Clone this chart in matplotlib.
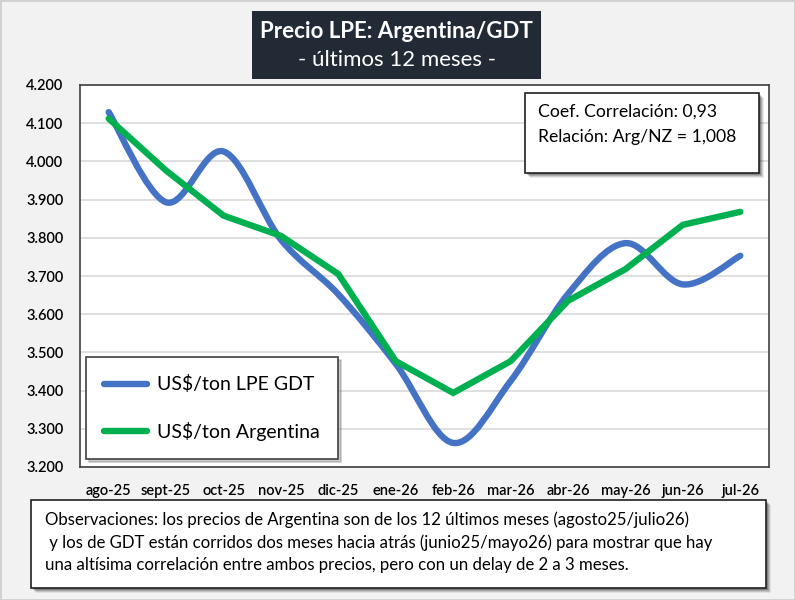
import numpy as np
import matplotlib
matplotlib.use("Agg")
import matplotlib.pyplot as plt
from matplotlib.path import Path
from matplotlib.patches import PathPatch, Rectangle
from matplotlib.lines import Line2D

plt.rcParams['font.family'] = ['Lato', 'DejaVu Sans']

# datos
meses = ['ago-25', 'sept-25', 'oct-25', 'nov-25', 'dic-25', 'ene-26',
         'feb-26', 'mar-26', 'abr-26', 'may-26', 'jun-26', 'jul-26']
gdt = [4129, 3893, 4026, 3795, 3652, 3470, 3263, 3425, 3653, 3786, 3678, 3753]
argentina = [4112, 3976, 3858, 3805, 3705, 3477, 3394, 3477, 3635, 3718, 3834, 3868]
y_ticks = [3200, 3300, 3400, 3500, 3600, 3700, 3800, 3900, 4000, 4100, 4200]

titulo = 'Precio LPE: Argentina/GDT'
subtitulo = '- últimos 12 meses -'
caja_corr = 'Coef. Correlación: 0,93\nRelación: Arg/NZ = 1,008'
observaciones = ('Observaciones: los precios de Argentina son de los 12 últimos meses (agosto25/julio26)\n'
                 ' y los de GDT están corridos dos meses hacia atrás (junio25/mayo26) para mostrar que hay\n'
                 'una altísima correlación entre ambos precios, pero con un delay de 2 a 3 meses.')

AZUL = '#4472c4'
VERDE = '#00b050'

W, H = 795, 600


def fx(x):
    return x / W


def fy(y):
    return 1 - y / H


def caja(x0, y0, x1, y1, face, edge=None, sombra=True):
    # rectangulo en pixeles de figura, con sombra tipo Excel
    if sombra:
        for k, a in zip([5, 4, 3, 2], [0.08, 0.12, 0.16, 0.2]):
            fig.patches.append(Rectangle((fx(x0 + k), fy(y1 + k)), fx(x1 - x0), (y1 - y0) / H,
                                         transform=fig.transFigure, facecolor='black',
                                         alpha=a, edgecolor='none', zorder=4))
    fig.patches.append(Rectangle((fx(x0), fy(y1)), fx(x1 - x0), (y1 - y0) / H,
                                 transform=fig.transFigure, facecolor=face,
                                 edgecolor=edge if edge else 'none', linewidth=1.2, zorder=5))


def curva_suave(x, y):
    # bezier estilo "linea suavizada" de Excel
    x = np.asarray(x, float)
    y = np.asarray(y, float)
    px = np.concatenate([[x[0]], x, [x[-1]]])
    py = np.concatenate([[y[0]], y, [y[-1]]])
    verts = [(x[0], y[0])]
    codes = [Path.MOVETO]
    for i in range(1, len(px) - 2):
        c1 = (px[i] + (px[i + 1] - px[i - 1]) / 6, py[i] + (py[i + 1] - py[i - 1]) / 6)
        c2 = (px[i + 1] - (px[i + 2] - px[i]) / 6, py[i + 1] - (py[i + 2] - py[i]) / 6)
        verts += [c1, c2, (px[i + 1], py[i + 1])]
        codes += [Path.CURVE4] * 3
    return Path(verts, codes)


fig = plt.figure(figsize=(7.95, 6.0), dpi=100, facecolor='#f2f2f2')
fig.patches.append(Rectangle((0, 0), 1, 1, transform=fig.transFigure, facecolor='none',
                             edgecolor='#d0d0d0', linewidth=2, zorder=0))

ax = fig.add_axes([fx(80), fy(467), fx(769 - 80), (467 - 85) / H])
ax.set_facecolor('white')

xs = np.arange(len(meses))
ax.add_patch(PathPatch(curva_suave(xs, gdt), facecolor='none', edgecolor=AZUL,
                       linewidth=4.6, capstyle='round', joinstyle='round', zorder=3))
ax.plot(xs, argentina, color=VERDE, linewidth=4.6, solid_capstyle='round',
        solid_joinstyle='miter', zorder=4)

ax.set_xlim(-0.5, len(meses) - 0.5)
ax.set_ylim(y_ticks[0], y_ticks[-1])
ax.set_yticks(y_ticks)
ax.set_yticklabels([f'{v:,.0f}'.replace(',', '.') for v in y_ticks])
ax.set_xticks(xs)
ax.set_xticklabels(meses)
ax.tick_params(axis='both', length=0, labelsize=10.5, colors='black')
ax.tick_params(axis='y', pad=12)
ax.tick_params(axis='x', pad=12)
for lab in ax.get_xticklabels() + ax.get_yticklabels():
    lab.set_fontweight('semibold')
ax.grid(axis='y', color='#d9d9d9', linewidth=1.2)
ax.set_axisbelow(True)
for s in ax.spines.values():
    s.set_color('#404040')
    s.set_linewidth(1.2)

# leyenda
handles = [Line2D([0], [0], color=AZUL, linewidth=4.6, solid_capstyle='round'),
           Line2D([0], [0], color=VERDE, linewidth=4.6, solid_capstyle='round')]
leg = ax.legend(handles, ['US$/ton LPE GDT', 'US$/ton Argentina'], loc='upper left',
                bbox_to_anchor=(fx(86), fy(357)), bbox_transform=fig.transFigure,
                fontsize=14, handlelength=2.2, handletextpad=0.5, labelspacing=1.45,
                borderpad=0.95, borderaxespad=0, fancybox=False, framealpha=1,
                edgecolor='#404040', shadow={'color': '0.5', 'alpha': 0.4})
leg.get_frame().set_linewidth(1.2)
leg.set_zorder(10)

# titulo
caja(252, 11, 541, 79, '#222a35', sombra=False)
fig.text(fx(396.5), fy(32), titulo, color='white', fontsize=16, fontweight='bold',
         ha='center', va='center', zorder=6)
fig.text(fx(396.5), fy(60), subtitulo, color='white', fontsize=16,
         ha='center', va='center', zorder=6)

# caja de correlacion
caja(525, 93, 759, 173, 'white', edge='#202020')
fig.text(fx(538), fy(112), caja_corr.split('\n')[0], fontsize=12.7, ha='left',
         va='center', zorder=6)
fig.text(fx(538), fy(137), caja_corr.split('\n')[1], fontsize=12.7, ha='left',
         va='center', zorder=6)

# observaciones
caja(31, 500, 766, 588, 'white', edge='#202020')
fig.text(fx(45), fy(511), observaciones, fontsize=12.1, ha='left', va='top',
         linespacing=1.5, zorder=6)

fig.savefig('out.png', dpi=100, facecolor=fig.get_facecolor())
